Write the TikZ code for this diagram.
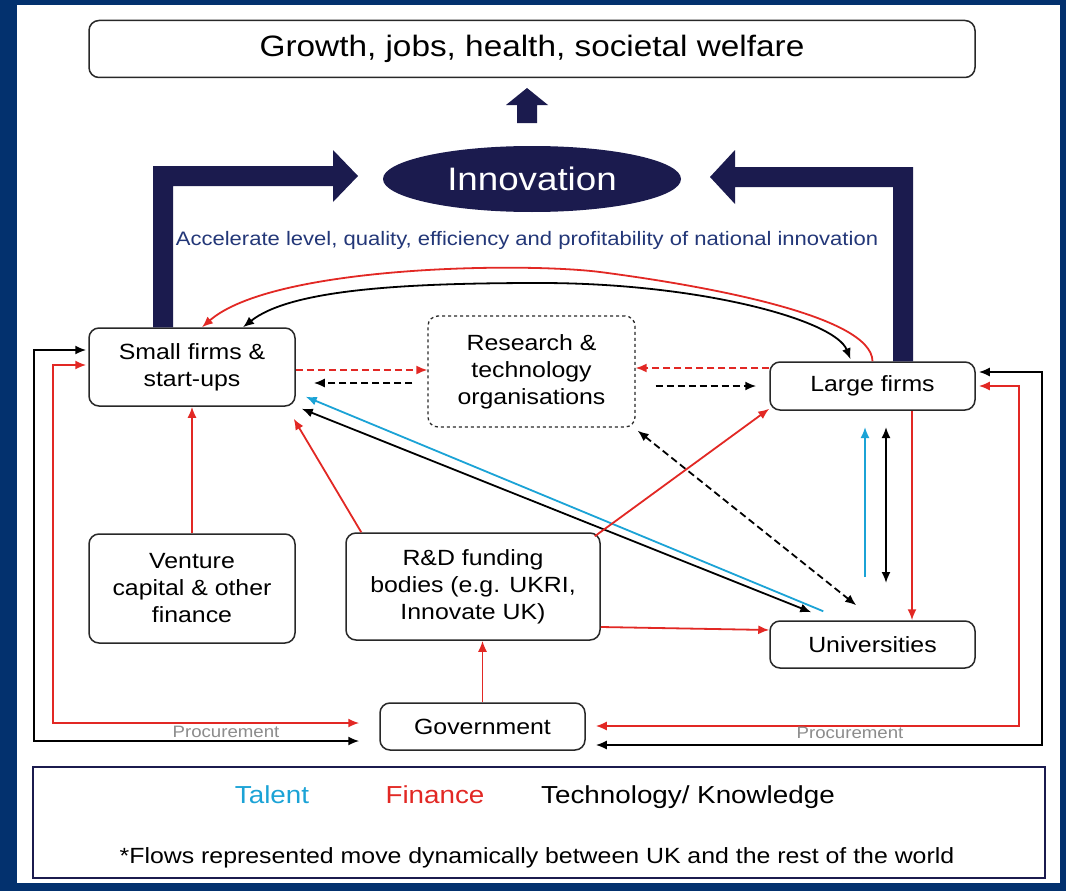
\documentclass[tikz,border=0pt]{standalone}
\usepackage{fontspec}
\setmainfont{Liberation Sans}[FakeStretch=1.13]
\usetikzlibrary{arrows.meta,shapes.geometric}
\definecolor{frameblue}{RGB}{3,49,110}
\definecolor{navyarr}{RGB}{27,27,78}
\definecolor{accblue}{RGB}{35,55,120}
\definecolor{finred}{RGB}{226,40,36}
\definecolor{talcyan}{RGB}{27,163,214}
\definecolor{procgray}{RGB}{140,140,140}
\definecolor{boxline}{RGB}{40,40,40}
\tikzset{
  box/.style={draw=boxline, line width=1.5pt, rounded corners=10pt, fill=white, align=center, inner sep=0pt, font=\fontsize{22}{27}\selectfont},
  conn/.style={line width=1.8pt, -{Latex[length=11pt,width=9pt]}},
  bothconn/.style={line width=1.8pt, {Latex[length=11pt,width=9pt]}-{Latex[length=11pt,width=9pt]}},
  fin/.style={draw=finred},
  tal/.style={draw=talcyan},
  tech/.style={draw=black},
  dashy/.style={dash pattern=on 7pt off 4pt},
  proc/.style={text=procgray, font=\fontsize{16.5}{18}\selectfont, inner sep=0pt},
  legtxt/.style={font=\fontsize{24.6}{28}\selectfont, anchor=base, inner sep=0pt}
}
\begin{document}
\begin{tikzpicture}[x=1pt,y=-1pt]
\fill[frameblue] (0,0) rectangle (1066,891);
\fill[white] (17,5) rectangle (1060,883);
\useasboundingbox (0,0) rectangle (1066,891);

% top box and innovation
\node[box, minimum width=886pt, minimum height=57pt, font=\fontsize{29.5}{34}\selectfont] (top) at (532,49) {Growth, jobs, health, societal welfare};
\node[ellipse, fill=navyarr, minimum width=298pt, minimum height=66pt, inner sep=0pt, text=white, font=\fontsize{32.5}{38}\selectfont] (innov) at (532,179) {Innovation};
\fill[navyarr] (517,123) -- (517,105) -- (506,105) -- (527,88) -- (548,105) -- (537,105) -- (537,123) -- cycle;

\node[text=accblue, font=\fontsize{19.5}{24}\selectfont, inner sep=0pt] (acc) at (527,240) {Accelerate level, quality, efficiency and profitability of national innovation};

% boxes
\node[box, minimum width=206pt, minimum height=78pt] (small) at (192,367) {Small firms \&\\start-ups};
\node[box, dashed, line width=1.3pt, minimum width=207pt, minimum height=111pt] (rto) at (531.5,371.5) {Research \&\\technology\\organisations};
\node[box, minimum width=205pt, minimum height=48pt] (large) at (872.5,386) {Large firms};
\node[box, minimum width=206pt, minimum height=109pt] (vc) at (192,588.5) {Venture\\capital \& other\\finance};
\node[box, minimum width=254pt, minimum height=107pt] (rd) at (473,586.5) {R\&D funding\\bodies (e.g. UKRI,\\Innovate UK)};
\node[box, minimum width=205pt, minimum height=47pt] (uni) at (872.5,644.5) {Universities};
\node[box, minimum width=205pt, minimum height=47pt] (gov) at (482.5,726.5) {Government};

% big navy L arrows
\fill[navyarr] (small.north -| 153,0) -- (153,166) -- (333,166) -- (333,150) -- (358,176) -- (333,202) -- (333,186) -- (173,186) -- (small.north -| 173,0) -- cycle;
\fill[navyarr] (large.north -| 913,0) -- (913,167) -- (735,167) -- (735,150) -- (710,177) -- (735,204) -- (735,187) -- (893,187) -- (large.north -| 893,0) -- cycle;

% curved flows between small and large firms
\draw[conn, fin] (large.north) .. controls (872,315) and (700,285) .. (600,272) .. controls (520,262) and (272,266) .. ([xshift=10pt]small.north);
\draw[bothconn, tech] ([xshift=51pt]small.north) .. controls (290,290) and (400,283) .. (540,283) .. controls (700,283) and (835,320) .. ([xshift=-22pt,yshift=2pt]large.north);

% dashed flows with RTO
\draw[conn, fin, dashy] (small.east |- 0,370) -- (rto.west |- 0,370);
\draw[conn, tech, dashy] ([xshift=-15pt]rto.west |- 0,383) -- ([xshift=18pt]small.east |- 0,383);
\draw[conn, fin, dashy] (large.west |- 0,368) -- (rto.east |- 0,368);
\draw[conn, tech, dashy] ([xshift=20pt]rto.east |- 0,386) -- ([xshift=-13pt]large.west |- 0,386);
\draw[bothconn, tech, dashy] ([xshift=2pt,yshift=-3pt]rto.south east) -- ([xshift=87pt,yshift=15pt]uni.north west);

% diagonal flows
\draw[conn, tal] ([xshift=54pt,yshift=9pt]uni.north west) -- ([xshift=10pt,yshift=10pt]small.south east);
\draw[bothconn, tech] ([xshift=6pt,yshift=-2pt]small.south east) -- ([xshift=42pt,yshift=8pt]uni.north west);
\draw[conn, fin] ([xshift=16pt]rd.north west) -- ([xshift=-2pt,yshift=-12pt]small.south east);
\draw[conn, fin] ([xshift=-6pt,yshift=-4pt]rd.north east) -- ([yshift=2pt]large.south west);
\draw[conn, fin] (rd.east |- 0,627) -- (uni.west |- 0,630);

% verticals
\draw[conn, fin] (vc.north) -- (small.south);
\draw[conn, fin] (gov.north) -- (gov.north |- rd.south);
\coordinate (talbot) at (865,577);
\coordinate (tectop) at (886,427);
\coordinate (tecbot) at (886,583);
\draw[conn, tal] (talbot) -- (talbot |- tectop);
\draw[bothconn, tech] (tectop) -- (tecbot);
\draw[conn, fin] (large.south -| 912,0) -- (uni.north -| 912,0);

% outer procurement loops
\draw[bothconn, tech] ([xshift=-20pt]gov.west |- 0,741) -- (34,741) -- (34,350) -- ([xshift=-2pt]small.west |- 0,350);
\draw[bothconn, fin] ([xshift=-20pt]gov.west |- 0,723) -- (53,723) -- (53,365) -- ([xshift=-2pt]small.west |- 0,365);
\draw[bothconn, fin] ([xshift=10pt]gov.east |- 0,726) -- (1019,726) -- (1019,386) -- ([xshift=3pt]large.east |- 0,386);
\draw[bothconn, tech] ([xshift=10pt]gov.east |- 0,745) -- (1042,745) -- (1042,372) -- ([xshift=3pt]large.east |- 0,372);
\node[proc] (procl) at (226,732) {Procurement};
\node[proc] (procr) at (850,733) {Procurement};

% legend
\node[draw=navyarr, line width=1.5pt, minimum width=1012pt, minimum height=111pt, inner sep=0pt] (leg) at (539,822.5) {};
\node[legtxt, text=talcyan] (talent) at (272,803) {Talent};
\node[legtxt, text=finred] (finance) at (435,803) {Finance};
\node[legtxt, text=black] (techn) at (688,803) {Technology/ Knowledge};
\node[font=\fontsize{22}{26}\selectfont, anchor=base, inner sep=0pt] (foot) at (537,863) {*Flows represented move dynamically between UK and the rest of the world};
\end{tikzpicture}
\end{document}
